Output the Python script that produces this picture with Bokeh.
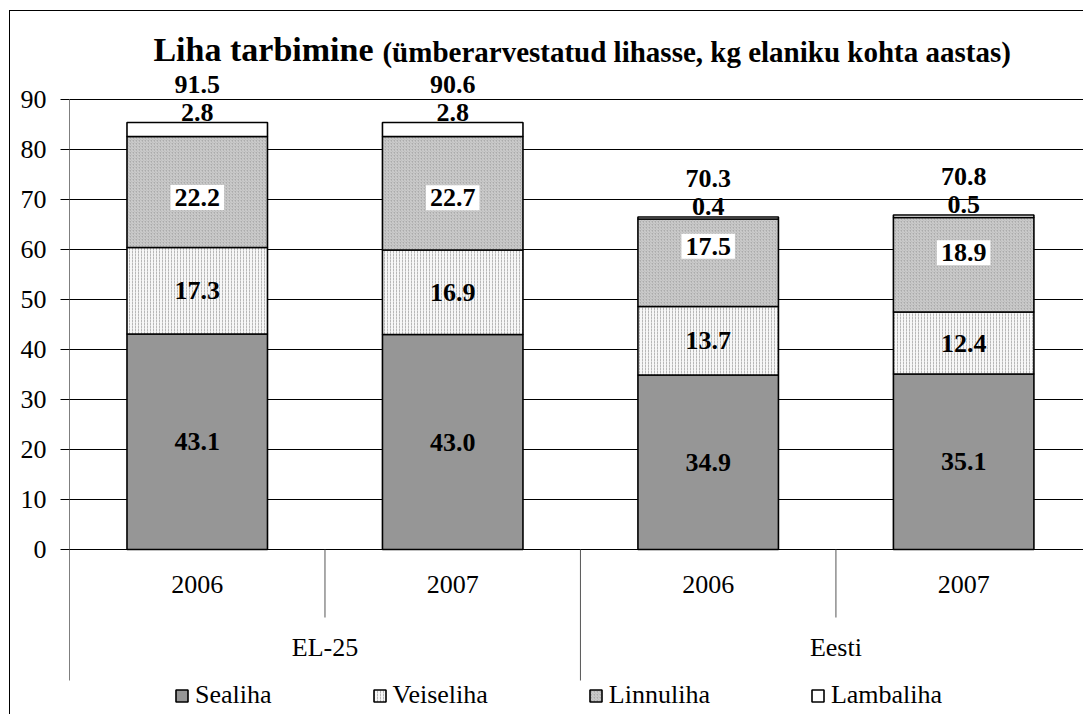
from bokeh.plotting import figure
from bokeh.models import ColumnDataSource, Range1d, FixedTicker
from bokeh.core.properties import value
from bokeh.embed import file_html
from bokeh.resources import INLINE

# ---------------- data ----------------
groups = ["EL-25", "EL-25", "Eesti", "Eesti"]
years = ["2006", "2007", "2006", "2007"]
series_names = ["Sealiha", "Veiseliha", "Linnuliha", "Lambaliha"]
sealiha = [43.1, 43.0, 34.9, 35.1]
veiseliha = [17.3, 16.9, 13.7, 12.4]
linnuliha = [22.2, 22.7, 17.5, 18.9]
lambaliha = [2.8, 2.8, 0.4, 0.5]
totals = [91.5, 90.6, 70.3, 70.8]
y_ticks = [0, 10, 20, 30, 40, 50, 60, 70, 80, 90]

title_main = "Liha tarbimine"
title_sub = "(ümberarvestatud lihasse, kg elaniku kohta aastas)"

# ---------------- layout / style ----------------
FONT = value("Liberation Serif")
linnu_shift = [-1.1, -0.9, 3.3, 2.4]   # manual label nudges as in original
n = len(years)
xs = [i + 0.5 for i in range(n)]

fills = ["#969696", "#f7f7f7", "#ababab", "#ffffff"]
hatches = [" ", ":", "/", " "]
hatch_cols = ["#969696", "#b8b8b8", "#d4d4d4", "#ffffff"]

src = ColumnDataSource(dict(x=xs, Sealiha=sealiha, Veiseliha=veiseliha,
                            Linnuliha=linnuliha, Lambaliha=lambaliha))

p = figure(width=1074, height=704,
           x_range=Range1d(0, 3.973), y_range=Range1d(-33.2, 107.6),
           output_backend="svg", toolbar_location=None, tools="",
           x_axis_location=None,
           min_border_left=59, min_border_right=0, min_border_top=0, min_border_bottom=0,
           outline_line_color=None, background_fill_color="white", border_fill_color="white")
p.styles = {"margin-left": "9px", "margin-top": "10px",
            "border-left": "1px solid black", "border-top": "1px solid black"}

# grid
p.xgrid.visible = False
p.ygrid.ticker = FixedTicker(ticks=y_ticks)
p.ygrid.grid_line_color = "black"
p.ygrid.grid_line_width = 1

# y axis
p.yaxis.ticker = FixedTicker(ticks=y_ticks)
p.yaxis.axis_line_color = None
p.yaxis.major_tick_out = 9
p.yaxis.major_tick_in = 0
p.yaxis.minor_tick_line_color = None
p.yaxis.major_tick_line_color = "black"
p.yaxis.major_label_text_font = "Liberation Serif"
p.yaxis.major_label_text_font_size = "26px"
p.yaxis.major_label_text_color = "black"
p.yaxis.major_label_standoff = 14

# bars
p.vbar_stack(series_names, x="x", width=0.55, source=src,
             fill_color=fills, line_color="black", line_width=1.6,
             hatch_pattern=hatches, hatch_color=hatch_cols,
             hatch_scale=[4, 3, 3, 4], hatch_weight=[1, 1, 1, 1],
             legend_label=series_names)

# category axis (drawn inside the extended frame)
axis_bottom = -26.2
year_sep_bottom = -13.6
p.segment(x0=[0], y0=[axis_bottom], x1=[0], y1=[y_ticks[-1]], line_color="black", line_width=1)
sep_x, sep_y1 = [], []
for i in range(1, n + 1):
    sep_x.append(i)
    long_sep = (i == n) or (groups[i] != groups[i - 1])
    sep_y1.append(axis_bottom if long_sep else year_sep_bottom)
p.segment(x0=sep_x, y0=[0] * len(sep_x), x1=sep_x, y1=sep_y1, line_color="#555555", line_width=1)

p.text(x=xs, y=[-7.0] * n, text=years, text_font=FONT, text_font_size="26px",
       text_align="center", text_baseline="middle", text_color="black")
grp_names, grp_x = [], []
for g in dict.fromkeys(groups):
    idx = [i for i, gg in enumerate(groups) if gg == g]
    grp_names.append(g)
    grp_x.append((min(idx) + max(idx) + 1) / 2)
p.text(x=grp_x, y=[-19.6] * len(grp_x), text=grp_names, text_font=FONT, text_font_size="26px",
       text_align="center", text_baseline="middle", text_color="black")

# value labels
s1 = [a for a in sealiha]
s2 = [a + b for a, b in zip(s1, veiseliha)]
s3 = [a + b for a, b in zip(s2, linnuliha)]
s4 = [a + b for a, b in zip(s3, lambaliha)]

lab_kw = dict(text_font=FONT, text_font_size="26px", text_font_style="bold",
              text_align="center", text_color="black", text_baseline="middle")
p.text(x=xs, y=[v / 2 for v in sealiha], text=[f"{v:.1f}" for v in sealiha], **lab_kw)
p.text(x=xs, y=[a + v / 2 for a, v in zip(s1, veiseliha)], text=[f"{v:.1f}" for v in veiseliha], **lab_kw)
p.text(x=xs, y=[t + 2.1 for t in s4], text=[f"{v:.1f}" for v in lambaliha], **lab_kw)
p.text(x=xs, y=[t + 7.7 for t in s4], text=[f"{v:.1f}" for v in totals], **lab_kw)

p.text(x=xs, y=[a + v / 2 + s for a, v, s in zip(s2, linnuliha, linnu_shift)],
       text=[f"{v:.1f}" for v in linnuliha],
       background_fill_color="white", padding=4, **lab_kw)

# title
p.text(x=[1.19], y=[100.0], text=[title_main], text_font=FONT, text_font_size="34px",
       text_font_style="bold", text_align="right", text_baseline="middle", text_color="black")
p.text(x=[1.225], y=[99.6], text=[title_sub], text_font=FONT, text_font_size="29px",
       text_font_style="bold", text_align="left", text_baseline="middle", text_color="black")

# legend
lg = p.legend[0]
lg.orientation = "horizontal"
lg.location = (105, 5)
lg.border_line_color = None
lg.background_fill_alpha = 0
lg.padding = 0
lg.margin = 0
lg.spacing = 100
lg.glyph_width = 15
lg.glyph_height = 15
lg.label_standoff = 6
lg.label_height = 26
lg.label_text_font = "Liberation Serif"
lg.label_text_font_size = "26px"
lg.label_text_color = "black"

open("out.html", "w").write(file_html(p, INLINE))
